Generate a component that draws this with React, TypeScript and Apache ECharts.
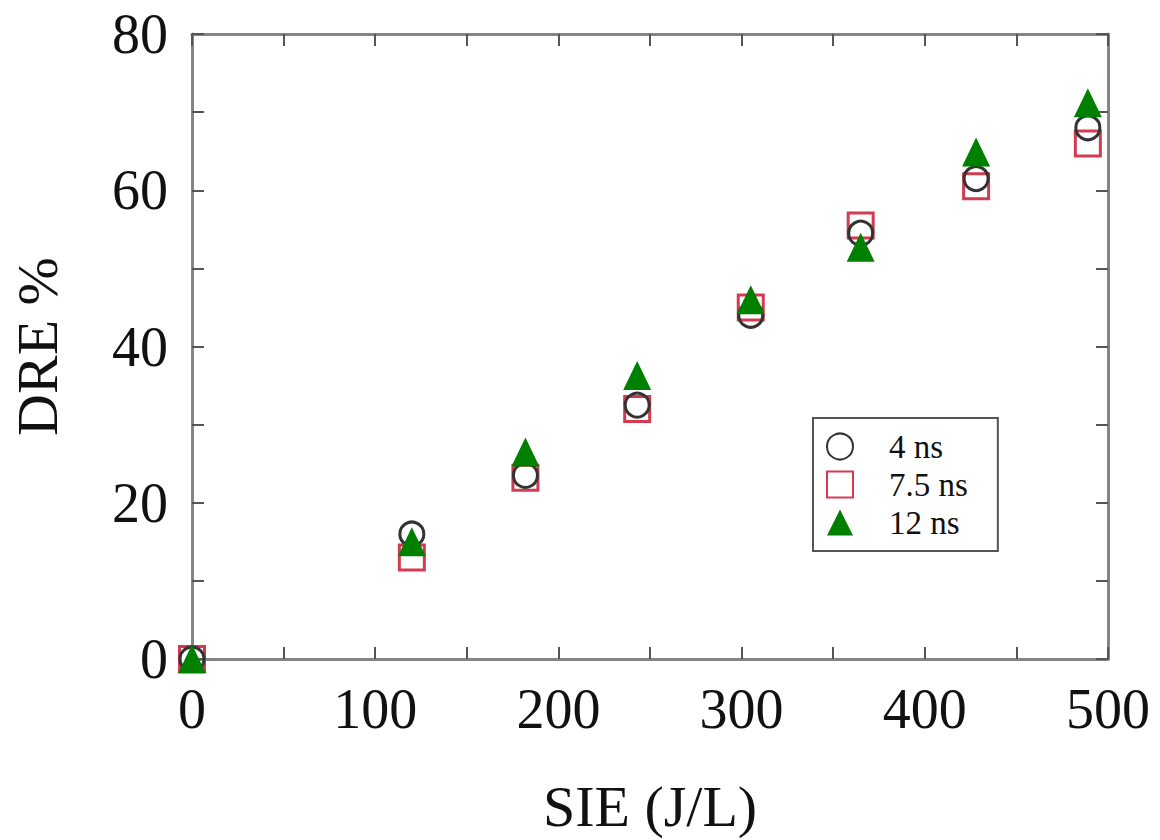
import React, { useEffect, useRef } from "react";
import * as echarts from "echarts";

const sieCircle = [0, 120, 182, 243, 305, 365, 428, 489];
const dre4ns = [0, 16, 23.5, 32.5, 44, 54.5, 61.5, 68];
const sieSquare = [0, 120, 182, 243, 305, 365, 428, 489];
const dre75ns = [0, 13, 23.2, 32, 45, 55.5, 60.5, 66];
const sieTriangle = [0, 120, 182, 243, 305, 365, 428, 489];
const dre12ns = [0, 15, 26.5, 36.3, 46, 52.7, 64.9, 71.2];
const seriesNames = ["4 ns", "7.5 ns", "12 ns"];

const FONT = "Liberation Serif";
const AXIS_COLOR = "#858585";
const TICK_COLOR = "#555";

export default function App() {
  const ref = useRef<HTMLDivElement>(null);
  useEffect(() => {
    if (!ref.current) return;
    const chart = echarts.init(ref.current, undefined, { renderer: "svg" });
    const zip = (xs: number[], ys: number[]) => xs.map((x, i) => [x, ys[i]]);
    const tickCommon = {
      axisTick: { show: true, inside: true, length: 12, lineStyle: { color: TICK_COLOR, width: 2 } },
      minorTick: { show: true, splitNumber: 2, length: 12, lineStyle: { color: TICK_COLOR, width: 2 } },
      axisLine: { show: true, onZero: false, lineStyle: { color: AXIS_COLOR, width: 3 } },
      splitLine: { show: false },
    };
    chart.setOption({
      animation: false,
      backgroundColor: "#fff",
      textStyle: { fontFamily: FONT },
      grid: { left: 192, top: 34, width: 916, height: 625 },
      xAxis: [
        {
          type: "value",
          min: 0,
          max: 500,
          interval: 100,
          position: "bottom",
          name: "SIE (J/L)",
          nameLocation: "middle",
          nameGap: 118,
          nameTextStyle: { fontFamily: FONT, fontSize: 58, color: "#111" },
          axisLabel: { fontFamily: FONT, fontSize: 56, color: "#111", margin: 22 },
          ...tickCommon,
        },
        {
          type: "value",
          min: 0,
          max: 500,
          interval: 100,
          position: "top",
          axisLabel: { show: false },
          ...tickCommon,
        },
      ],
      yAxis: [
        {
          type: "value",
          min: 0,
          max: 80,
          interval: 20,
          position: "left",
          name: "DRE %",
          nameLocation: "middle",
          nameGap: 126,
          nameTextStyle: { fontFamily: FONT, fontSize: 58, color: "#111" },
          axisLabel: { fontFamily: FONT, fontSize: 56, color: "#111", margin: 24 },
          ...tickCommon,
        },
        {
          type: "value",
          min: 0,
          max: 80,
          interval: 20,
          position: "right",
          axisLabel: { show: false },
          ...tickCommon,
        },
      ],
      legend: {
        orient: "vertical",
        left: 813,
        top: 418,
        data: seriesNames,
        itemWidth: 26,
        itemHeight: 26,
        itemGap: 5,
        padding: [12, 30, 12, 13],
        borderColor: "#555",
        borderWidth: 2,
        backgroundColor: "#fff",
        textStyle: {
          fontFamily: FONT,
          fontSize: 33,
          color: "#111",
          padding: [0, 0, 0, 31],
        },
      },
      series: [
        {
          name: seriesNames[0],
          type: "scatter",
          z: 3,
          symbol: "circle",
          symbolSize: 24,
          data: zip(sieCircle, dre4ns),
          itemStyle: { color: "transparent", borderColor: "#333", borderWidth: 3, opacity: 1 },
        },
        {
          name: seriesNames[1],
          type: "scatter",
          z: 2,
          symbol: "rect",
          symbolSize: 25,
          data: zip(sieSquare, dre75ns),
          itemStyle: { color: "transparent", borderColor: "#d43a50", borderWidth: 3, opacity: 1 },
        },
        {
          name: seriesNames[2],
          type: "scatter",
          z: 4,
          symbol: "triangle",
          symbolSize: [28, 29],
          data: zip(sieTriangle, dre12ns),
          itemStyle: { color: "#008000", opacity: 1 },
        },
      ],
    });
    return () => chart.dispose();
  }, []);
  return (
    <div
      ref={ref}
      style={{ position: "fixed", left: 0, top: 0, width: 1160, height: 840, background: "#fff" }}
    />
  );
}
